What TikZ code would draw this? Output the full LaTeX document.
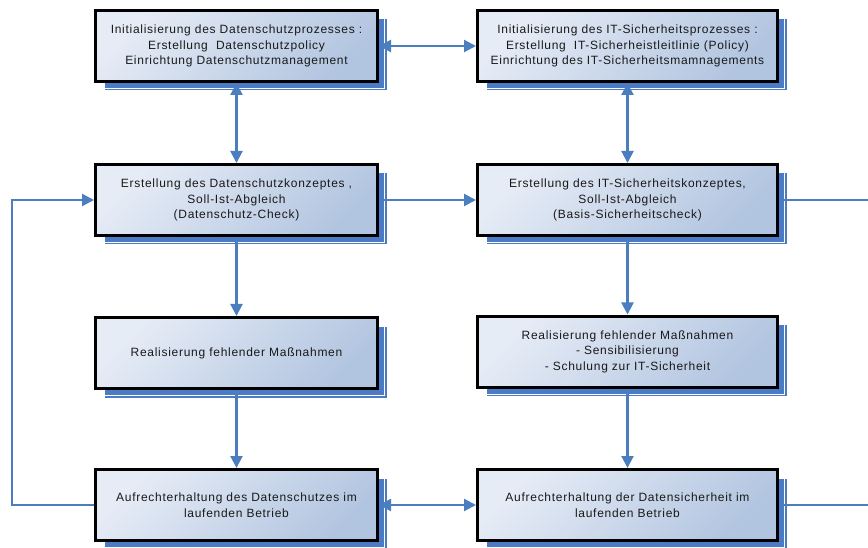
\documentclass[tikz,border=0pt]{standalone}
\usepackage{fontspec}
\setmainfont{Liberation Sans}
\newfontfamily\dsfont[LetterSpace=6]{Liberation Sans}
\usepackage{xcolor}
\usepackage{tikz}
\usetikzlibrary{arrows.meta, shadows}
\definecolor{dsblue}{HTML}{4A7EBF}
\definecolor{dsshadow}{HTML}{4A7BC4}
\definecolor{dslight}{HTML}{E6ECF6}
\definecolor{dsdark}{HTML}{B2C5E0}
\tikzset{
  dsbox/.style={draw=black, line width=3pt, minimum width=282pt, minimum height=71pt,
    top color=dslight, bottom color=dsdark, shading angle=45,
    text=black!90, align=center, font=\dsfont\fontsize{12}{15.5}\selectfont,
    general shadow={fill=dsshadow, shadow xshift=9pt, shadow yshift=-9pt},
    general shadow={draw=white, line width=0.7pt, shadow xshift=6.5pt, shadow yshift=-7pt}},
  dsline/.style={draw=dsblue, line width=2.2pt},
  dsarrow/.style={dsline, -{Triangle[length=12pt, width=12pt]}},
  dsboth/.style={dsline, {Triangle[length=12pt, width=12pt]}-{Triangle[length=12pt, width=12pt]}}
}

\begin{document}
\begin{tikzpicture}[x=1pt, y=-1pt]
\useasboundingbox[fill=white] (0,0) rectangle (868,548);
\node[dsbox] (dsinit) at (236.5,46)
  {Initialisierung des Datenschutzprozesses :\\Erstellung\ \ Datenschutzpolicy\\Einrichtung Datenschutzmanagement};
\node[dsbox, minimum width=300pt] (itinit) at (627.5,46)
  {Initialisierung des IT-Sicherheitsprozesses :\\Erstellung\ \ IT-Sicherheistleitlinie (Policy)\\Einrichtung des IT-Sicherheitsmamnagements};
\node[dsbox] (dskonzept) at (236.5,200)
  {Erstellung des Datenschutzkonzeptes ,\\Soll-Ist-Abgleich\\(Datenschutz-Check)};
\node[dsbox, minimum width=300pt] (itkonzept) at (627.5,200)
  {Erstellung des IT-Sicherheitskonzeptes,\\Soll-Ist-Abgleich\\(Basis-Sicherheitscheck)};
\node[dsbox] (dsreal) at (236.5,353)
  {Realisierung fehlender Maßnahmen};
\node[dsbox, minimum width=300pt] (itreal) at (627.5,351.5)
  {Realisierung fehlender Maßnahmen\\- Sensibilisierung\\- Schulung zur IT-Sicherheit};
\node[dsbox] (dsbetrieb) at (236.5,505)
  {Aufrechterhaltung des Datenschutzes im\\laufenden Betrieb};
\node[dsbox, minimum width=300pt] (itbetrieb) at (627.5,505)
  {Aufrechterhaltung der Datensicherheit im\\laufenden Betrieb};
\coordinate (loopx) at (12,0);
\coordinate (edgex) at (868,0);
\draw[dsboth] (dsinit.east) -- (itinit.west);
\draw[dsboth] (dsinit.south) -- (dskonzept.north);
\draw[dsboth] (itinit.south) -- (itkonzept.north);
\draw[dsarrow] (dskonzept.east) -- (itkonzept.west);
\draw[dsarrow] (dskonzept.south) -- (dsreal.north);
\draw[dsarrow] (itkonzept.south) -- (itreal.north);
\draw[dsarrow] (dsreal.south) -- (dsbetrieb.north);
\draw[dsarrow] (itreal.south) -- (itbetrieb.north);
\draw[dsboth] (dsbetrieb.east) -- (itbetrieb.west);
\draw[dsarrow] (dsbetrieb.west) -- (dsbetrieb.west -| loopx) |- (dskonzept.west);
\draw[dsline] (itkonzept.east) -- (itkonzept.east -| edgex);
\draw[dsline] (itbetrieb.east) -- (itbetrieb.east -| edgex);
\end{tikzpicture}
\end{document}
